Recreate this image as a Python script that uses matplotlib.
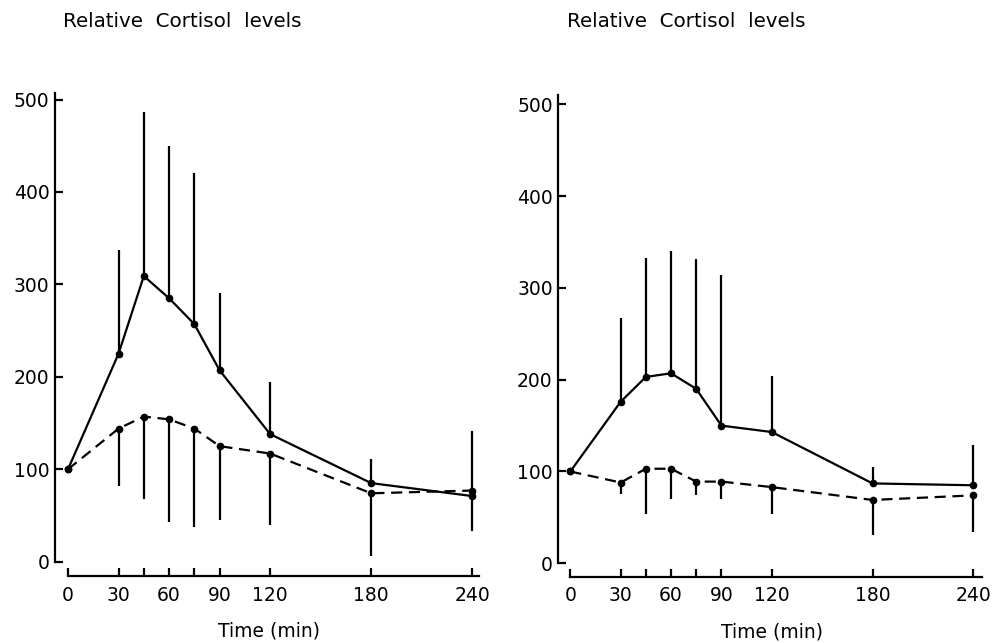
import matplotlib
matplotlib.use("Agg")
import matplotlib.pyplot as plt
import numpy as np

# ---- data ----
time = [0, 30, 45, 60, 75, 90, 120, 180, 240]
tick_major = [0, 30, 60, 90, 120, 180, 240]
tick_minor = [45, 75]
yticks = [0, 100, 200, 300, 400, 500]

# Left panel
left_solid = [100, 225, 309, 285, 257, 207, 138, 85, 71]
left_solid_upper = [100, 337, 486, 450, 420, 291, 194, 111, 141]
left_dashed = [100, 144, 157, 154, 144, 125, 117, 74, 77]
left_dashed_lower = [100, 82, 68, 43, 38, 45, 40, 6, 33]

# Right panel
right_solid = [100, 176, 203, 207, 190, 150, 143, 87, 85]
right_solid_upper = [100, 267, 333, 340, 331, 314, 204, 105, 129]
right_dashed = [100, 88, 103, 103, 89, 89, 83, 69, 74]
right_dashed_lower = [100, 75, 54, 70, 74, 70, 54, 31, 34]

title = "Relative  Cortisol  levels"
xlabel = "Time (min)"

W, H = 992, 643
fig = plt.figure(figsize=(W / 100, H / 100), dpi=100)
fig.patch.set_facecolor("white")

FONT = "DejaVu Sans"
LW = 1.6


def make_panel(px_left, px_right, px_bottom, px_top, xlim, ylim, yspine_top, xspine_right,
               solid, solid_up, dashed, dashed_lo, title_x):
    ax = fig.add_axes([px_left / W, 1 - px_bottom / H, (px_right - px_left) / W,
                       (px_bottom - px_top) / H])
    ax.set_xlim(*xlim)
    ax.set_ylim(*ylim)
    for s in ["top", "right"]:
        ax.spines[s].set_visible(False)
    ax.spines["left"].set_bounds(0, yspine_top)
    ax.spines["bottom"].set_bounds(0, xspine_right)
    for s in ["left", "bottom"]:
        ax.spines[s].set_linewidth(LW)
    ax.set_yticks(yticks)
    ax.set_xticks(tick_major)
    ax.set_xticks(tick_minor, minor=True)
    ax.tick_params(axis="both", which="both", direction="in", length=6, width=LW,
                   labelsize=13.5)
    ax.tick_params(axis="y", pad=4)
    ax.tick_params(axis="x", pad=7)
    for lab in ax.get_xticklabels() + ax.get_yticklabels():
        lab.set_fontfamily(FONT)

    t = np.array(time)
    ax.vlines(t[1:], np.array(solid)[1:], np.array(solid_up)[1:], colors="black", lw=LW)
    ax.vlines(t[1:], np.array(dashed_lo)[1:], np.array(dashed)[1:], colors="black", lw=LW)
    ax.plot(t, solid, color="black", lw=LW, marker="o", ms=4.5)
    ax.plot(t, dashed, color="black", lw=LW, ls=(0, (5, 3)), marker="o", ms=4.5)

    ax.set_xlabel(xlabel, fontsize=13.5, fontfamily=FONT, labelpad=12)
    fig.text(title_x / W, 1 - 27 / H, title, fontsize=14.3, fontfamily=FONT,
             ha="left", va="baseline")
    return ax


# left panel: yspine x=55, x0 at 68, 1.6846 px/min; y0 at 561.7, 0.9244 px/unit
pxm, pyu = 1.6846, 0.9244
make_panel(55, 482, 576, 93,
           ((55 - 68) / pxm, (482 - 68) / pxm),
           (-(576 - 561.7) / pyu, (561.7 - 93) / pyu),
           507, 244,
           left_solid, left_solid_upper, left_dashed, left_dashed_lower, 63)

# right panel: yspine x=558.3, x0 at 570.3, 1.679 px/min; y0 at 563.3, 0.918 px/unit
pxm2, pyu2 = 1.679, 0.918
make_panel(558.3, 985, 576.7, 95,
           ((558.3 - 570.3) / pxm2, (985 - 570.3) / pxm2),
           (-(576.7 - 563.3) / pyu2, (563.3 - 95) / pyu2),
           510, 245,
           right_solid, right_solid_upper, right_dashed, right_dashed_lower, 567)

fig.savefig("out.png", dpi=100, facecolor="white")
